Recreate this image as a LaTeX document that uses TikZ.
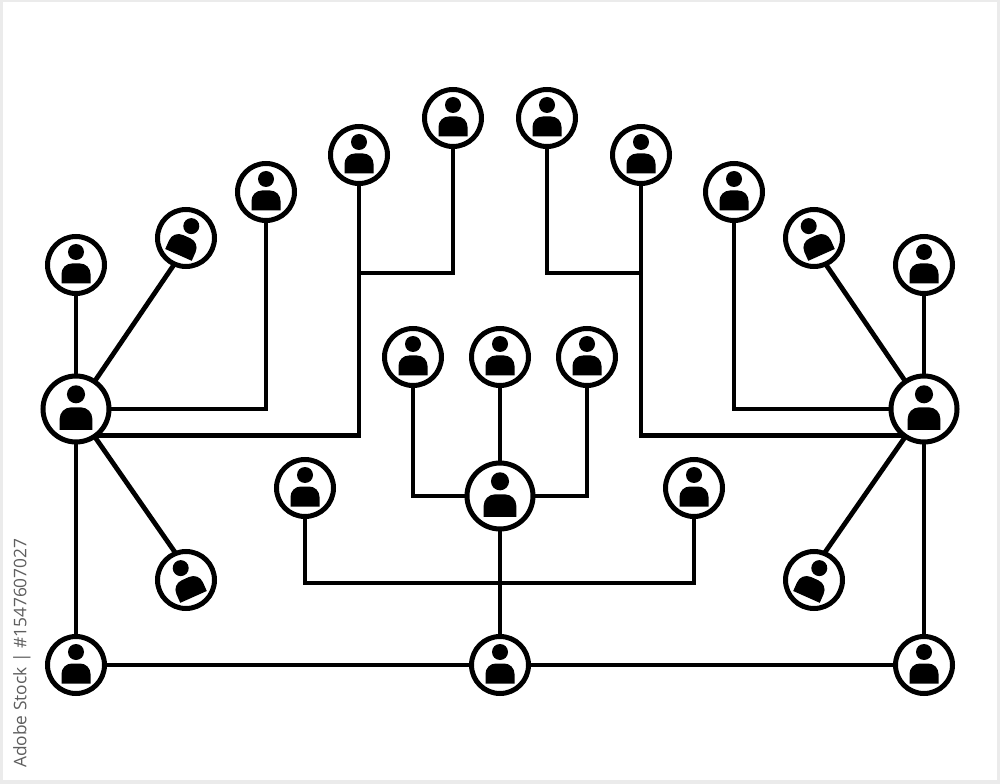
\documentclass[tikz,border=0pt]{standalone}
\usepackage{fontspec}
\setmainfont{Open Sans}
\definecolor{framegray}{HTML}{EBEBEB}
\definecolor{sidegray}{HTML}{5E5E5E}
\tikzset{
  small/.style={circle,draw=black,fill=white,line width=3.75pt,minimum size=42.75pt,inner sep=0pt,outer sep=0pt},
  big/.style={circle,draw=black,fill=white,line width=3.75pt,minimum size=49.5pt,inner sep=0pt,outer sep=0pt},
  link/.style={draw=black,line width=3.6pt,line cap=butt,line join=miter},
  person/.pic={
    \fill[black] (0,-13) circle[radius=8];
    \fill[black] (-14.5,18.5) -- (-14.5,9) .. controls (-14.5,3) and (-10,-1.5) .. (-4,-1.5)
      -- (4,-1.5) .. controls (10,-1.5) and (14.5,3) .. (14.5,9) -- (14.5,18.5) -- cycle;
  }
}
\begin{document}
\begin{tikzpicture}[x=0.75pt,y=-0.75pt]
\useasboundingbox (0,0) rectangle (1000,784);
\fill[framegray] (0,0) rectangle (1000,784);
\fill[white] (3,2) rectangle (997,780);
% top arc
\node[small] (t1) at (76,265) {};
\node[small] (t2) at (186,238) {};
\node[small] (t3) at (266,192) {};
\node[small] (t4) at (359,155) {};
\node[small] (t5) at (453,118) {};
\node[small] (t6) at (547,118) {};
\node[small] (t7) at (641,155) {};
\node[small] (t8) at (734,192) {};
\node[small] (t9) at (814,238) {};
\node[small] (t10) at (924,265) {};
% centre group
\node[small] (m1) at (413,357) {};
\node[small] (m2) at (500,357) {};
\node[small] (m3) at (587,357) {};
\node[small] (s1) at (305,488) {};
\node[small] (s2) at (694,488) {};
\node[big] (hub) at (500,496) {};
% sides
\node[big] (left) at (76,409) {};
\node[big] (right) at (924,409) {};
\node[small] (d1) at (186,580) {};
\node[small] (d2) at (814,580) {};
% bottom
\node[small] (b1) at (76,665) {};
\node[small] (b2) at (500,665) {};
\node[small] (b3) at (924,665) {};
% helpers
\coordinate (jl) at (359,273);
\coordinate (jr) at (641,273);
\coordinate (bus) at (500,583);
% connectors
\draw[link] (t1.south) -- (left.north);
\draw[link] (t2.246) -- (left.56);
\draw[link] (t3.south) |- (left.east);
\draw[link] (t4.south) |- (left.-54.9);
\draw[link] (t5.south) |- (jl);
\draw[link] (t6.south) |- (jr);
\draw[link] (t7.south) |- (right.234.9);
\draw[link] (t8.south) |- (right.west);
\draw[link] (t9.294) -- (right.124);
\draw[link] (t10.south) -- (right.north);
\draw[link] (left.-56) -- (d1.111);
\draw[link] (right.236) -- (d2.69);
\draw[link] (left.south) -- (b1.north);
\draw[link] (right.south) -- (b3.north);
\draw[link] (b1.east) -- (b2.west);
\draw[link] (b2.east) -- (b3.west);
\draw[link] (hub.south) -- (b2.north);
\draw[link] (m2.south) -- (hub.north);
\draw[link] (m1.south) |- (hub.west);
\draw[link] (m3.south) |- (hub.east);
\draw[link] (s1.south) |- (bus) -| (s2.south);
% icons
\foreach \n in {t1,t3,t4,t5,t6,t7,t8,t10,m1,m2,m3,s1,s2,b1,b2,b3}
  \pic at (\n) {person};
\pic[rotate=-24] at (t2) {person};
\pic[rotate=24] at (t9) {person};
\pic[rotate=24] at (d1) {person};
\pic[rotate=-24] at (d2) {person};
\foreach \n in {hub,left,right}
  \pic[scale=1.13] at (\n) {person};
% side text
\node[rotate=90,text=sidegray,font=\fontsize{13pt}{15pt}\selectfont,inner sep=0pt,anchor=west] (side) at (22,768) {Adobe Stock | \#1547607027};
\end{tikzpicture}
\end{document}
